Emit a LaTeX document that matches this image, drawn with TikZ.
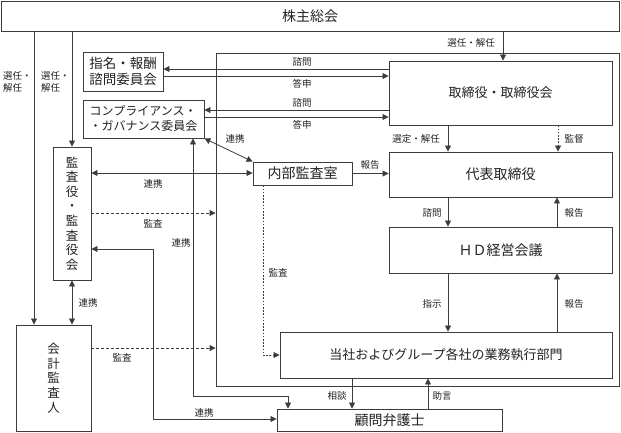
\documentclass[tikz,border=0pt]{standalone}
\usepackage{fontspec}
\setmainfont{Noto Sans CJK JP}
\usetikzlibrary{arrows.meta}
\definecolor{ln}{HTML}{3C3C3C}
\definecolor{tx}{HTML}{222222}
\begin{document}
\begin{tikzpicture}[x=1pt,y=-1pt,
  box/.style={draw=ln, line width=0.9pt, inner sep=0pt, text=tx, fill=white},
  bigf/.style={font=\fontsize{14}{16}\selectfont},
  midf/.style={font=\fontsize{13}{15}\selectfont},
  lbl/.style={font=\fontsize{9.5}{12}\selectfont, text=tx, inner sep=0pt},
  tip/.tip={Triangle[width=6pt,length=6pt]},
  ar/.style={draw=ln, line width=0.8pt, -tip},
  arb/.style={draw=ln, line width=0.8pt, tip-tip},
  dsh/.style={dash pattern=on 3pt off 2pt},
  dot/.style={dash pattern=on 1.6pt off 1.6pt}]
\useasboundingbox (0,0) rectangle (621,432);
% frame
\node[draw=ln, line width=0.9pt, minimum width=403pt, minimum height=333pt, inner sep=0pt] (frame) at (417.5,219.5) {};
% boxes
\node[box, bigf, minimum width=618pt, minimum height=30pt] (sh) at (310,16) {株主総会};
\node[box, midf, minimum width=223pt, minimum height=64pt] (tor) at (500.5,93) {取締役・取締役会};
\node[box, bigf, minimum width=223pt, minimum height=45pt] (dai) at (500.5,174.5) {代表取締役};
\node[box, bigf, minimum width=223pt, minimum height=46pt] (hd) at (500.5,250) {ＨＤ経営会議};
\node[box, midf, minimum width=332pt, minimum height=46pt] (bumon) at (446,355) {当社およびグループ各社の業務執行部門};
\node[box, bigf, minimum width=225pt, minimum height=22pt] (komon) at (389.5,420) {顧問弁護士};
\node[box, font=\fontsize{13.5}{16}\selectfont, align=left, minimum width=80pt, minimum height=39pt] (shimei) at (123,71.5) {指名・報酬\\諮問委員会};
\node[box, font=\fontsize{12}{15}\selectfont, align=left, minimum width=121pt, minimum height=38pt] (comp) at (143.5,119) {コンプライアンス・\\・ガバナンス委員会};
\node[box, font=\fontsize{12.5}{14.6}\selectfont, align=center, minimum width=38pt, minimum height=133pt] (kansa) at (72,213.5) {監\\査\\役\\・\\監\\査\\役\\会};
\node[box, font=\fontsize{12.5}{14.6}\selectfont, align=center, minimum width=75pt, minimum height=106pt] (kaikei) at (53.5,378) {会\\計\\監\\査\\人};
\node[box, bigf, minimum width=99pt, minimum height=23pt] (naibu) at (302.5,173.5) {内部監査室};
% shareholders
\draw[ar] (sh.south -| 503,0) -- (tor.north -| 503,0);
\node[lbl] at (471,43) {選任・解任};
\draw[ar] (sh.south -| 34,0) -- (kaikei.north -| 34,0);
\draw[ar] (sh.south -| 72,0) -- (kansa.north);
\node[lbl, align=left, anchor=north west] at (3,71) {選任・\\解任};
\node[lbl, align=left, anchor=north west] at (41,71) {選任・\\解任};
% committees
\draw[ar] (tor.west |- 0,69) -- (shimei.east |- 0,69);
\draw[ar] (shimei.east |- 0,76) -- (tor.west |- 0,76);
\draw[ar] (tor.west |- 0,110) -- (comp.east |- 0,110);
\draw[ar] (comp.east |- 0,117) -- (tor.west |- 0,117);
\node[lbl] at (302,62) {諮問};
\node[lbl] at (302,83.5) {答申};
\node[lbl] at (302,103) {諮問};
\node[lbl] at (302,124.5) {答申};
% compliance - internal audit
\draw[arb] (comp.south east) -- (naibu.north west);
\node[lbl] at (235,139) {連携};
% kansa
\draw[arb] (kansa.east |- 0,173) -- (naibu.west |- 0,173);
\node[lbl] at (153,184) {連携};
\draw[ar, dsh] (kansa.east |- 0,213) -- (frame.west |- 0,213);
\node[lbl] at (153,224) {監査};
\draw[arb] (kansa.east |- 0,249) -- (153,249) -- (153,419) -- (komon.west |- 0,419);
\node[lbl] at (204,413) {連携};
\draw[arb] (comp.south -| 193,0) -- (193,396) -- (288,396) -- (komon.north -| 288,0);
\node[lbl] at (181,243) {連携};
\draw[arb] (kansa.south) -- (kaikei.north -| kansa.south);
\node[lbl] at (88,303) {連携};
\draw[ar, dsh] (kaikei.east |- 0,348) -- (frame.west |- 0,348);
\node[lbl] at (122,358) {監査};
% internal audit
\draw[ar] (naibu.east) -- (dai.west |- naibu.east);
\node[lbl] at (370,165) {報告};
\draw[ar, dot] (naibu.south -| 263,0) -- (263,355) -- (bumon.west);
\node[lbl] at (278,273) {監査};
% executive chain
\draw[ar] (tor.south -| 448,0) -- (dai.north -| 448,0);
\node[lbl] at (416,139) {選定・解任};
\draw[ar, dot] (tor.south -| 558,0) -- (dai.north -| 558,0);
\node[lbl] at (574,139) {監督};
\draw[ar] (dai.south -| 448,0) -- (hd.north -| 448,0);
\node[lbl] at (432,213) {諮問};
\draw[ar] (hd.north -| 557,0) -- (dai.south -| 557,0);
\node[lbl] at (574,213) {報告};
\draw[ar] (hd.south -| 448,0) -- (bumon.north -| 448,0);
\node[lbl] at (432,304) {指示};
\draw[ar] (bumon.north -| 557,0) -- (hd.south -| 557,0);
\node[lbl] at (574,304) {報告};
\draw[ar] (bumon.south -| 352,0) -- (komon.north -| 352,0);
\node[lbl] at (337,396) {相談};
\draw[ar] (komon.north -| 428,0) -- (bumon.south -| 428,0);
\node[lbl] at (442,396) {助言};
\end{tikzpicture}
\end{document}
